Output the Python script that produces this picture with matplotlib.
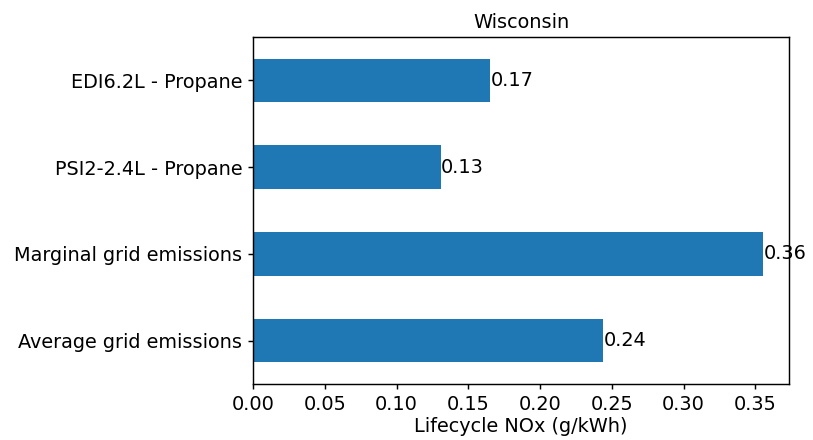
import matplotlib
matplotlib.use("Agg")
import matplotlib.pyplot as plt

categories = ["Average grid emissions", "Marginal grid emissions",
              "PSI2-2.4L - Propane", "EDI6.2L - Propane"]
values = [0.244, 0.3556, 0.131, 0.1653]
title = "Wisconsin"
xlabel = "Lifecycle NOx (g/kWh)"

dpi = 130
fs = 10.7
fig = plt.figure(figsize=(813 / dpi, 440 / dpi), dpi=dpi)
W, H = 813, 440
ax = fig.add_axes([253 / W, 1 - 384 / H, (789 - 253) / W, (384 - 37) / H])
bars = ax.barh(range(len(categories)), values, height=0.5, color="#1f77b4")
ax.set_yticks(range(len(categories)))
ax.set_yticklabels(categories, fontsize=fs)
ax.bar_label(bars, fmt="%.2f", fontsize=fs, padding=0)
ax.set_xlabel(xlabel, fontsize=fs, labelpad=1.5)
ax.set_title(title, fontsize=fs, pad=5)
ax.tick_params(labelsize=fs, length=3.0, pad=3)
ax.set_ylim(-0.5, 3.5)
fig.savefig("out.png", dpi=dpi)
